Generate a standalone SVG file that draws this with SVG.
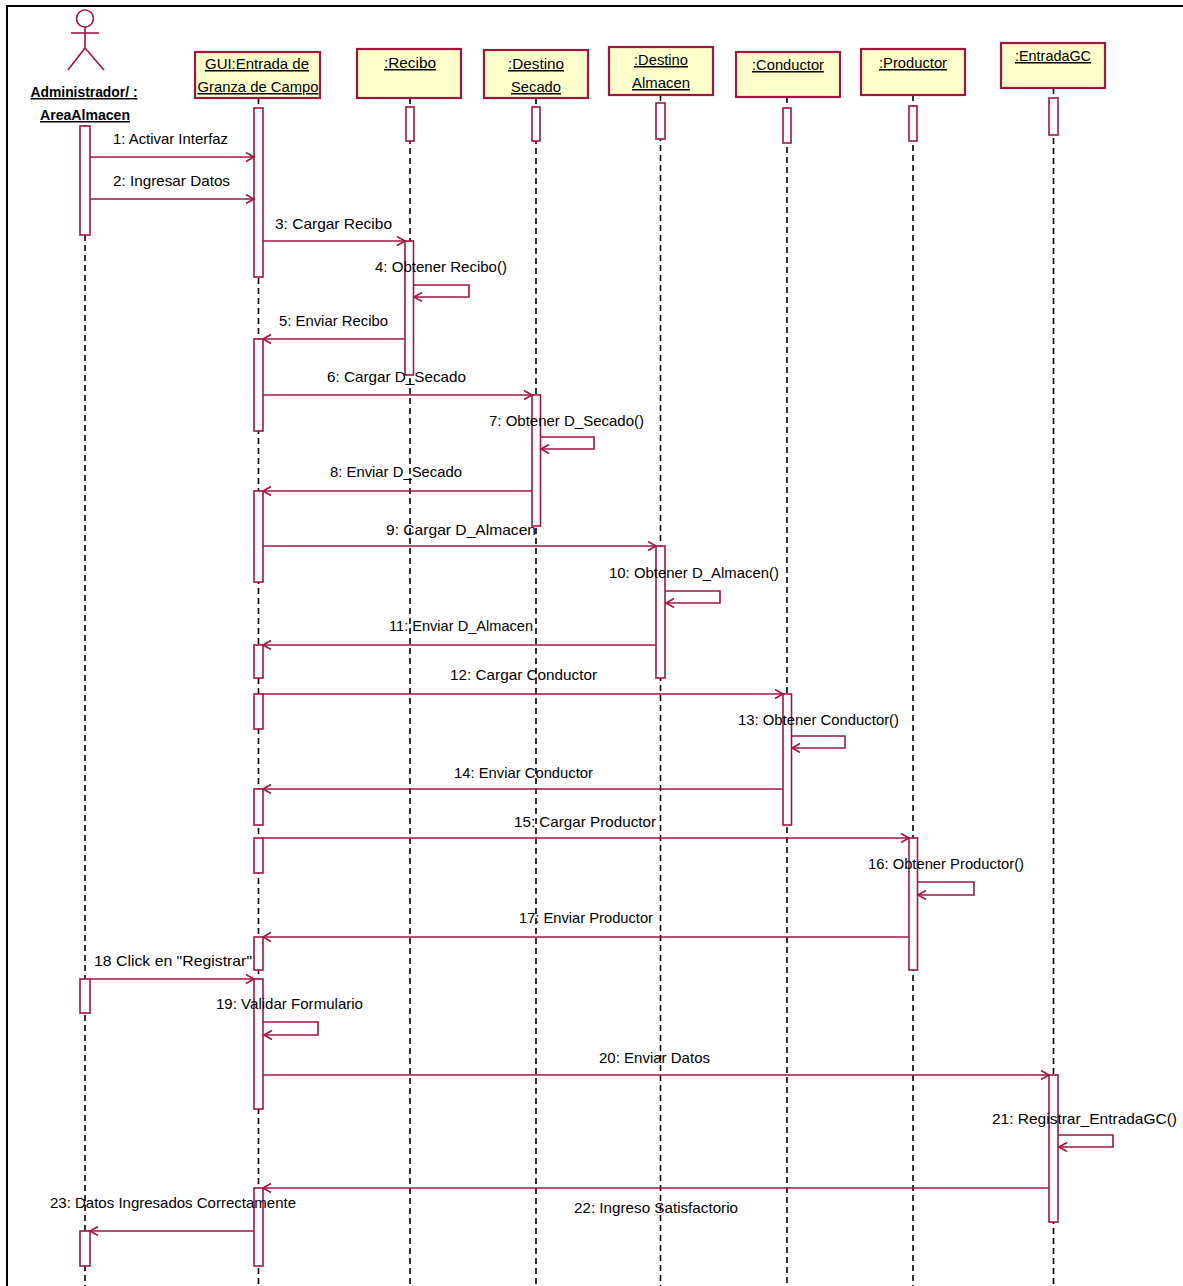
<svg xmlns="http://www.w3.org/2000/svg" width="1183" height="1286" viewBox="0 0 1183 1286">
<style>
.bg{fill:#ffffff}
.frame{stroke:#000;stroke-width:2;fill:none}
.head{fill:#ffffcc;stroke:#a3143f;stroke-width:2.2}
.act{fill:#ffffff;stroke:#a3143f;stroke-width:1.6}
.life{stroke:#000;stroke-width:1.6;stroke-dasharray:6 4;fill:none}
.msg{stroke:#a3143f;stroke-width:1.6;fill:none;marker-end:url(#arr)}
.actor{stroke:#a3143f;stroke-width:1.6;fill:none}
text{font-family:"Liberation Sans",Arial,sans-serif;font-size:15px;fill:#000}
.hd{text-anchor:middle;text-decoration:underline}
.bold{font-weight:bold}
</style>
<defs>
<marker id="arr" markerWidth="12" markerHeight="12" refX="9" refY="5" orient="auto" markerUnits="userSpaceOnUse">
<path d="M1,0.5 L9,5 L1,9.5" fill="none" stroke="#a3143f" stroke-width="1.6"/>
</marker>
</defs>
<rect class="bg" x="0" y="0" width="1183" height="1286"/>
<path class="frame" d="M7,1286 L7,6 L1183,6"/>

<g id="lifelines">
<line class="life" x1="85" y1="125" x2="85" y2="1286"/>
<line class="life" x1="258.5" y1="98" x2="258.5" y2="1286"/>
<line class="life" x1="410" y1="98" x2="410" y2="1286"/>
<line class="life" x1="536" y1="98" x2="536" y2="1286"/>
<line class="life" x1="660.5" y1="95" x2="660.5" y2="1286"/>
<line class="life" x1="787" y1="97" x2="787" y2="1286"/>
<line class="life" x1="913" y1="95" x2="913" y2="1286"/>
<line class="life" x1="1053.5" y1="88" x2="1053.5" y2="1286"/>
</g>

<g id="actor-admin">
<circle class="actor" cx="85" cy="18.5" r="8.5"/>
<line class="actor" x1="85" y1="27" x2="85" y2="48"/>
<line class="actor" x1="71" y1="33" x2="99" y2="33"/>
<line class="actor" x1="85" y1="48" x2="68" y2="70"/>
<line class="actor" x1="85" y1="48" x2="104" y2="70"/>
<text class="hd bold" x="84" y="97" textLength="107" lengthAdjust="spacingAndGlyphs">Administrador/ :</text>
<text class="hd bold" x="85" y="120" textLength="90" lengthAdjust="spacingAndGlyphs">AreaAlmacen</text>
<rect class="act" x="80" y="126" width="10" height="109"/>
<rect class="act" x="80" y="979" width="10" height="34"/>
<rect class="act" x="80" y="1231" width="10" height="35"/>
</g>

<g id="node-gui">
<rect class="head" x="195" y="52" width="125" height="46" stroke-width="2.6"/>
<text class="hd" x="257" y="69" textLength="104" lengthAdjust="spacingAndGlyphs">GUI:Entrada de</text>
<text class="hd" x="258" y="92" textLength="121" lengthAdjust="spacingAndGlyphs">Granza de Campo</text>
<rect class="act" x="254" y="108" width="9" height="169"/>
<rect class="act" x="254" y="339" width="9" height="92"/>
<rect class="act" x="254" y="491" width="9" height="91"/>
<rect class="act" x="254" y="645" width="9" height="33"/>
<rect class="act" x="254" y="694" width="9" height="35"/>
<rect class="act" x="254" y="789" width="9" height="36"/>
<rect class="act" x="254" y="838" width="9" height="35"/>
<rect class="act" x="254" y="937" width="9" height="33"/>
<rect class="act" x="254" y="979" width="9" height="130"/>
<rect class="act" x="254" y="1188" width="9" height="78"/>
</g>

<g id="node-recibo">
<rect class="head" x="357" y="49" width="104" height="49"/>
<text class="hd" x="410" y="68" textLength="52" lengthAdjust="spacingAndGlyphs">:Recibo</text>
<rect class="act" x="406" y="107" width="8" height="34"/>
<rect class="act" x="405" y="241" width="8.5" height="134"/>
</g>

<g id="node-destino-secado">
<rect class="head" x="484" y="50" width="104" height="48"/>
<text class="hd" x="536" y="69" textLength="56" lengthAdjust="spacingAndGlyphs">:Destino</text>
<text class="hd" x="536" y="92" textLength="50" lengthAdjust="spacingAndGlyphs">Secado</text>
<rect class="act" x="532" y="107" width="8" height="34"/>
<rect class="act" x="532" y="395" width="8.5" height="131"/>
</g>

<g id="node-destino-almacen">
<rect class="head" x="609" y="47" width="104" height="48"/>
<text class="hd" x="661" y="65" textLength="54" lengthAdjust="spacingAndGlyphs">:Destino</text>
<text class="hd" x="661" y="88" textLength="58" lengthAdjust="spacingAndGlyphs">Almacen</text>
<rect class="act" x="656" y="103" width="9" height="36"/>
<rect class="act" x="656" y="546" width="9" height="132"/>
</g>

<g id="node-conductor">
<rect class="head" x="736" y="52" width="104" height="45"/>
<text class="hd" x="788" y="70" textLength="72" lengthAdjust="spacingAndGlyphs">:Conductor</text>
<rect class="act" x="783" y="108" width="8" height="35"/>
<rect class="act" x="783" y="694" width="8.5" height="131"/>
</g>

<g id="node-productor">
<rect class="head" x="861" y="49" width="104" height="46"/>
<text class="hd" x="913" y="68" textLength="68" lengthAdjust="spacingAndGlyphs">:Productor</text>
<rect class="act" x="909" y="106" width="8" height="35"/>
<rect class="act" x="909" y="838" width="8.5" height="132"/>
</g>

<g id="node-entradagc">
<rect class="head" x="1001" y="43" width="104" height="45"/>
<text class="hd" x="1053" y="61" textLength="76" lengthAdjust="spacingAndGlyphs">:EntradaGC</text>
<rect class="act" x="1049" y="98" width="9" height="37"/>
<rect class="act" x="1049" y="1075" width="9" height="147"/>
</g>

<g id="connectors">
<line class="msg" x1="90" y1="157" x2="254" y2="157"/>
<line class="msg" x1="90" y1="199" x2="254" y2="199"/>
<line class="msg" x1="263" y1="241" x2="405" y2="241"/>
<path class="msg" d="M413.5,285 L469,285 L469,297 L414,297"/>
<line class="msg" x1="405" y1="339" x2="263" y2="339"/>
<line class="msg" x1="263" y1="395" x2="532" y2="395"/>
<path class="msg" d="M540.5,437 L594,437 L594,449 L541,449"/>
<line class="msg" x1="532" y1="491" x2="263" y2="491"/>
<line class="msg" x1="263" y1="546" x2="656" y2="546"/>
<path class="msg" d="M665,591 L720,591 L720,603 L666,603"/>
<line class="msg" x1="656" y1="645" x2="263" y2="645"/>
<line class="msg" x1="263" y1="694" x2="783" y2="694"/>
<path class="msg" d="M791.5,736 L845,736 L845,748 L792,748"/>
<line class="msg" x1="783" y1="789" x2="263" y2="789"/>
<line class="msg" x1="263" y1="838" x2="909" y2="838"/>
<path class="msg" d="M917.5,882 L974,882 L974,895 L918,895"/>
<line class="msg" x1="909" y1="937" x2="263" y2="937"/>
<line class="msg" x1="90" y1="979" x2="254" y2="979"/>
<path class="msg" d="M263,1022 L318,1022 L318,1035 L264,1035"/>
<line class="msg" x1="263" y1="1075" x2="1049" y2="1075"/>
<path class="msg" d="M1058,1135 L1113,1135 L1113,1147 L1059,1147"/>
<line class="msg" x1="1049" y1="1188" x2="263" y2="1188"/>
<line class="msg" x1="254" y1="1231" x2="90" y2="1231"/>
</g>

<g id="labels">
<text x="113" y="144" textLength="115" lengthAdjust="spacingAndGlyphs">1: Activar Interfaz</text>
<text x="113" y="186" textLength="117" lengthAdjust="spacingAndGlyphs">2: Ingresar Datos</text>
<text x="275" y="229" textLength="117" lengthAdjust="spacingAndGlyphs">3: Cargar Recibo</text>
<text x="375" y="272" textLength="132" lengthAdjust="spacingAndGlyphs">4: Obtener Recibo()</text>
<text x="279" y="326" textLength="109" lengthAdjust="spacingAndGlyphs">5: Enviar Recibo</text>
<text x="327" y="382" textLength="139" lengthAdjust="spacingAndGlyphs">6: Cargar D_Secado</text>
<text x="489" y="426" textLength="155" lengthAdjust="spacingAndGlyphs">7: Obtener D_Secado()</text>
<text x="330" y="477" textLength="132" lengthAdjust="spacingAndGlyphs">8: Enviar D_Secado</text>
<text x="386" y="535" textLength="150" lengthAdjust="spacingAndGlyphs">9: Cargar D_Almacen</text>
<text x="609" y="578" textLength="170" lengthAdjust="spacingAndGlyphs">10: Obtener D_Almacen()</text>
<text x="389" y="631" textLength="144" lengthAdjust="spacingAndGlyphs">11: Enviar D_Almacen</text>
<text x="450" y="680" textLength="147" lengthAdjust="spacingAndGlyphs">12: Cargar Conductor</text>
<text x="738" y="725" textLength="161" lengthAdjust="spacingAndGlyphs">13: Obtener Conductor()</text>
<text x="454" y="778" textLength="139" lengthAdjust="spacingAndGlyphs">14: Enviar Conductor</text>
<text x="514" y="827" textLength="142" lengthAdjust="spacingAndGlyphs">15: Cargar Productor</text>
<text x="868" y="869" textLength="156" lengthAdjust="spacingAndGlyphs">16: Obtener Productor()</text>
<text x="519" y="923" textLength="134" lengthAdjust="spacingAndGlyphs">17: Enviar Productor</text>
<text x="94" y="966" textLength="158" lengthAdjust="spacingAndGlyphs">18 Click en "Registrar"</text>
<text x="216" y="1009" textLength="147" lengthAdjust="spacingAndGlyphs">19: Validar Formulario</text>
<text x="599" y="1063" textLength="111" lengthAdjust="spacingAndGlyphs">20: Enviar Datos</text>
<text x="992" y="1124" textLength="185" lengthAdjust="spacingAndGlyphs">21: Registrar_EntradaGC()</text>
<text x="574" y="1213" textLength="164" lengthAdjust="spacingAndGlyphs">22: Ingreso Satisfactorio</text>
<text x="50" y="1208" textLength="246" lengthAdjust="spacingAndGlyphs">23: Datos Ingresados Correctamente</text>
</g>
</svg>
